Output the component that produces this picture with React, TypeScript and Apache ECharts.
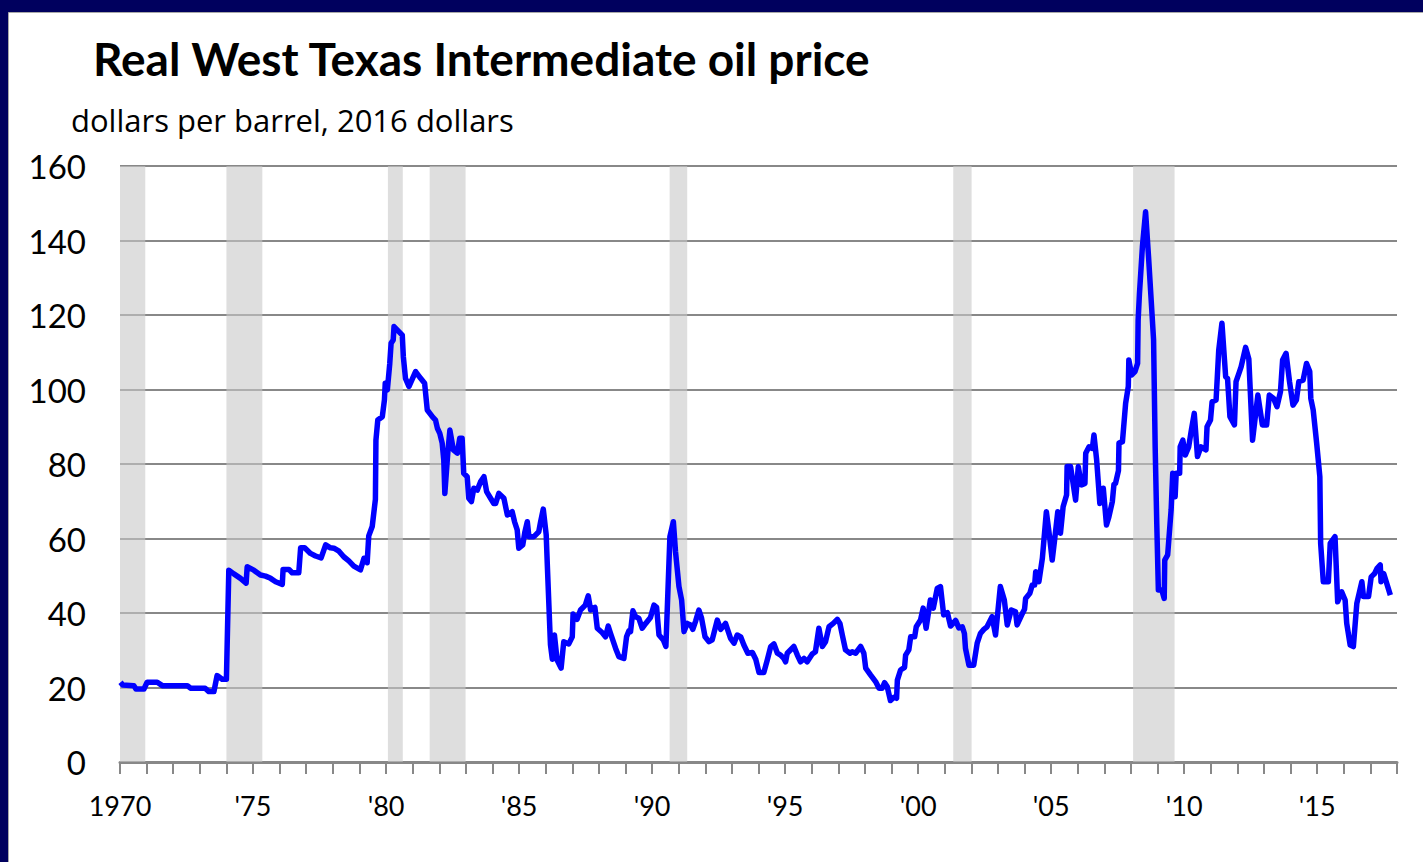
import React, { useEffect, useRef } from "react";
import * as echarts from "echarts";

const titleText = "Real West Texas Intermediate oil price";
const subtitleText = "dollars per barrel, 2016 dollars";

const yTicks = [0, 20, 40, 60, 80, 100, 120, 140, 160];

// recession periods (decimal years)
const recessionStart = [1970.0, 1974.0, 1980.07, 1981.64, 1990.66, 2001.32, 2008.08];
const recessionEnd = [1970.95, 1975.35, 1980.63, 1982.99, 1991.32, 2002.01, 2009.64];

// dates (decimal years) and real WTI price
const dates = [
  1970.02, 1970.1, 1970.52, 1970.6, 1970.9, 1971.02, 1971.4, 1971.59, 1972.53, 1972.65,
  1973.2, 1973.34, 1973.53, 1973.65, 1973.84, 1974.0, 1974.09, 1974.28, 1974.53, 1974.74,
  1974.78, 1975.03, 1975.28, 1975.47, 1975.66, 1975.85, 1976.1, 1976.13, 1976.35, 1976.47,
  1976.72, 1976.79, 1976.94, 1977.16, 1977.35, 1977.56, 1977.73, 1977.91, 1978.04, 1978.23,
  1978.41, 1978.6, 1978.79, 1979.04, 1979.17, 1979.29, 1979.35, 1979.48, 1979.6, 1979.62,
  1979.69, 1979.86, 1979.94, 1979.97, 1980.05, 1980.14, 1980.19, 1980.27, 1980.3, 1980.61,
  1980.65, 1980.73, 1980.86, 1981.11, 1981.3, 1981.45, 1981.55, 1981.74, 1981.86, 1981.93,
  1982.02, 1982.11, 1982.17, 1982.21, 1982.32, 1982.4, 1982.53, 1982.68, 1982.77, 1982.86,
  1982.92, 1983.05, 1983.11, 1983.21, 1983.3, 1983.43, 1983.55, 1983.68, 1983.78, 1983.93,
  1984.05, 1984.12, 1984.24, 1984.43, 1984.56, 1984.74, 1984.83, 1984.93, 1984.99, 1985.14,
  1985.22, 1985.31, 1985.37, 1985.56, 1985.74, 1985.81, 1985.91, 1986.02, 1986.06, 1986.18,
  1986.25, 1986.33, 1986.43, 1986.58, 1986.68, 1986.87, 1987.0, 1987.03, 1987.18, 1987.31,
  1987.49, 1987.6, 1987.69, 1987.85, 1987.94, 1988.13, 1988.25, 1988.35, 1988.44, 1988.63,
  1988.75, 1988.94, 1989.04, 1989.13, 1989.19, 1989.28, 1989.38, 1989.5, 1989.63, 1989.76,
  1989.94, 1990.07, 1990.17, 1990.26, 1990.42, 1990.52, 1990.67, 1990.8, 1990.88, 1991.01,
  1991.11, 1991.2, 1991.32, 1991.45, 1991.53, 1991.64, 1991.76, 1991.86, 1991.99, 1992.14,
  1992.26, 1992.45, 1992.58, 1992.76, 1992.95, 1993.08, 1993.2, 1993.33, 1993.45, 1993.6,
  1993.77, 1993.9, 1994.02, 1994.2, 1994.33, 1994.46, 1994.58, 1994.71, 1994.83, 1994.95,
  1995.02, 1995.08, 1995.33, 1995.46, 1995.58, 1995.71, 1995.83, 1996.02, 1996.14, 1996.27,
  1996.4, 1996.52, 1996.65, 1996.81, 1996.96, 1997.06, 1997.15, 1997.27, 1997.44, 1997.52,
  1997.65, 1997.84, 1997.96, 1998.03, 1998.21, 1998.4, 1998.53, 1998.65, 1998.74, 1998.84,
  1998.96, 1999.09, 1999.19, 1999.22, 1999.34, 1999.49, 1999.53, 1999.65, 1999.72, 1999.87,
  1999.93, 2000.09, 2000.19, 2000.3, 2000.46, 2000.57, 2000.72, 2000.84, 2000.96, 2001.1,
  2001.22, 2001.41, 2001.53, 2001.66, 2001.74, 2001.78, 2001.91, 2002.09, 2002.22, 2002.34,
  2002.47, 2002.59, 2002.78, 2002.91, 2003.09, 2003.24, 2003.35, 2003.5, 2003.66, 2003.72,
  2003.92, 2004.0, 2004.04, 2004.2, 2004.29, 2004.38, 2004.42, 2004.54, 2004.67, 2004.82,
  2004.94, 2005.04, 2005.13, 2005.25, 2005.35, 2005.45, 2005.58, 2005.6, 2005.73, 2005.92,
  2006.02, 2006.14, 2006.27, 2006.3, 2006.42, 2006.55, 2006.61, 2006.71, 2006.83, 2006.96,
  2007.08, 2007.17, 2007.3, 2007.36, 2007.42, 2007.53, 2007.55, 2007.68, 2007.8, 2007.9,
  2007.92, 2008.03, 2008.15, 2008.25, 2008.27, 2008.32, 2008.43, 2008.55, 2008.66, 2008.76,
  2008.85, 2008.91, 2008.97, 2009.03, 2009.16, 2009.25, 2009.27, 2009.38, 2009.51, 2009.57,
  2009.66, 2009.7, 2009.83, 2009.85, 2009.95, 2010.04, 2010.17, 2010.27, 2010.38, 2010.5,
  2010.63, 2010.82, 2010.86, 2010.99, 2011.05, 2011.2, 2011.3, 2011.42, 2011.56, 2011.63,
  2011.72, 2011.89, 2011.95, 2012.08, 2012.14, 2012.31, 2012.43, 2012.57, 2012.77, 2012.94,
  2013.1, 2013.2, 2013.36, 2013.49, 2013.62, 2013.7, 2013.83, 2013.96, 2014.09, 2014.22,
  2014.31, 2014.47, 2014.6, 2014.72, 2014.76, 2014.85, 2014.98, 2015.1, 2015.13, 2015.23,
  2015.42, 2015.49, 2015.67, 2015.77, 2015.92, 2016.05, 2016.11, 2016.24, 2016.36, 2016.49,
  2016.68, 2016.74, 2016.93, 2017.03, 2017.16, 2017.25, 2017.37, 2017.4, 2017.5, 2017.75,
];

const prices = [
  21.4, 20.7, 20.5, 19.6, 19.6, 21.4, 21.4, 20.5, 20.5, 19.8,
  19.8, 18.9, 18.9, 23.2, 22.2, 22.2, 51.5, 50.5, 49.3, 48.0,
  52.4, 51.5, 50.2, 49.9, 49.3, 48.4, 47.7, 51.7, 51.7, 50.8,
  50.8, 57.5, 57.5, 56.0, 55.3, 54.8, 58.3, 57.5, 57.4, 56.6,
  55.1, 54.0, 52.6, 51.6, 54.7, 53.5, 60.7, 63.2, 70.5, 86.4,
  91.8, 92.7, 97.2, 101.7, 99.9, 107.0, 112.4, 113.3, 116.9, 114.6,
  108.8, 103.0, 100.8, 104.8, 103.0, 101.7, 94.5, 92.7, 91.8, 89.6,
  88.2, 85.6, 81.1, 72.1, 82.9, 89.1, 83.8, 82.9, 86.9, 86.9,
  77.5, 76.6, 70.8, 69.9, 73.5, 73.0, 75.2, 76.6, 72.6, 70.8,
  69.4, 69.4, 72.1, 70.8, 66.3, 67.2, 64.5, 62.3, 57.4, 58.3,
  61.8, 64.5, 60.5, 60.5, 61.8, 64.5, 67.9, 61.0, 53.3, 31.5,
  27.6, 34.1, 27.4, 25.2, 32.3, 31.7, 33.6, 39.7, 38.3, 40.8,
  42.1, 44.6, 40.8, 41.5, 35.9, 34.7, 33.6, 36.5, 34.5, 30.5,
  28.3, 27.8, 33.6, 35.2, 35.0, 40.6, 39.0, 38.6, 35.9, 37.2,
  38.8, 42.1, 41.5, 34.1, 32.8, 31.0, 60.5, 64.5, 56.5, 47.1,
  43.5, 35.0, 37.2, 36.8, 35.6, 37.9, 40.8, 38.6, 33.6, 32.3,
  32.8, 38.1, 35.6, 37.2, 33.2, 31.9, 34.1, 33.6, 31.4, 29.2,
  29.4, 27.5, 24.0, 24.0, 27.4, 31.0, 31.7, 29.2, 28.7, 27.8,
  26.9, 29.2, 31.0, 28.7, 26.9, 27.8, 26.9, 29.0, 29.6, 35.9,
  31.0, 32.3, 36.3, 37.2, 38.3, 37.2, 34.1, 30.1, 29.2, 29.6,
  29.2, 31.0, 29.2, 25.2, 23.4, 21.6, 19.8, 19.8, 21.3, 20.2,
  16.5, 17.4, 17.1, 22.0, 24.7, 25.4, 28.7, 30.1, 33.6, 33.6,
  36.3, 38.1, 41.3, 35.9, 43.5, 41.3, 46.6, 47.1, 39.5, 40.1,
  36.5, 38.0, 36.0, 36.3, 34.5, 30.5, 26.0, 26.0, 31.9, 34.5,
  35.6, 36.3, 39.0, 34.1, 47.1, 43.5, 36.8, 40.8, 40.3, 36.8,
  39.9, 41.0, 43.9, 45.3, 47.5, 47.5, 51.1, 48.4, 54.7, 67.2,
  60.5, 54.2, 59.6, 67.2, 61.4, 68.5, 71.7, 79.3, 79.3, 70.3,
  79.3, 74.4, 74.8, 82.9, 84.6, 84.2, 87.8, 81.1, 69.4, 73.5,
  63.6, 65.8, 69.9, 74.5, 74.8, 78.2, 85.6, 86.0, 96.3, 100.8,
  107.9, 103.9, 104.8, 107.0, 118.7, 125.8, 138.3, 147.7, 135.7, 124.0,
  113.3, 84.6, 64.1, 46.2, 46.2, 43.9, 54.2, 55.6, 67.7, 77.5,
  71.2, 77.5, 77.5, 84.6, 86.4, 82.4, 84.6, 89.1, 93.6, 82.0,
  84.6, 83.8, 90.0, 91.8, 96.7, 97.2, 110.6, 117.8, 103.4, 103.0,
  92.7, 90.5, 102.1, 104.8, 106.1, 111.3, 108.2, 86.4, 98.5, 90.5,
  90.5, 98.5, 97.6, 95.4, 99.4, 107.9, 109.7, 102.1, 95.8, 97.2,
  102.1, 102.5, 107.0, 104.8, 97.6, 94.5, 85.6, 76.6, 58.7, 48.4,
  48.4, 58.7, 60.5, 43.0, 45.7, 43.5, 37.2, 31.4, 31.0, 42.6,
  48.4, 44.4, 44.4, 49.7, 50.6, 52.0, 52.9, 48.4, 50.6, 44.8,
];

const FONT = "Lato, 'Open Sans', sans-serif";

export default function App() {
  const ref = useRef<HTMLDivElement>(null);

  useEffect(() => {
    if (!ref.current) return;
    const chart = echarts.init(ref.current, null, { renderer: "svg" });
    const lineData = dates.map((d, i) => [d, prices[i]]);
    const areas = recessionStart.map((s, i) => [{ xAxis: s }, { xAxis: recessionEnd[i] }]);

    chart.setOption({
      animation: false,
      backgroundColor: "#00005e",
      graphic: [
        {
          type: "rect",
          z: -10,
          zlevel: 0,
          shape: { x: 8.5, y: 12.5, width: 1420, height: 860 },
          style: { fill: "#ffffff", stroke: "#a8a8a8", lineWidth: 1 },
        },
      ],
      title: [
        {
          text: titleText,
          left: 88,
          top: 30,
          textStyle: { fontFamily: FONT, fontWeight: "bold", fontSize: 46, color: "#000" },
        },
        {
          text: subtitleText,
          left: 66,
          top: 99,
          textStyle: { fontFamily: "'Open Sans', sans-serif", fontWeight: "normal", fontSize: 31, color: "#000" },
        },
      ],
      grid: { left: 120, right: 26, top: 166, bottom: 100, containLabel: false },
      xAxis: {
        type: "value",
        min: 1970,
        max: 2018,
        interval: 1,
        axisLine: { show: true, lineStyle: { color: "#888888", width: 3 } },
        axisTick: { show: true, length: 12, lineStyle: { color: "#888888", width: 2 } },
        splitLine: { show: false },
        axisLabel: {
          margin: 30,
          fontFamily: FONT,
          fontSize: 27,
          color: "#000",
          formatter: (v: number) => {
            if (v % 5 !== 0 || v > 2015) return "";
            return v === 1970 ? "1970" : "'" + String(v).slice(2);
          },
        },
      },
      yAxis: {
        type: "value",
        min: 0,
        max: 160,
        interval: 20,
        axisLine: { show: false },
        axisTick: { show: false },
        splitLine: { show: true, lineStyle: { color: "#888888", width: 2 } },
        axisLabel: {
          margin: 34,
          fontFamily: FONT,
          fontSize: 33,
          color: "#000",
          formatter: (v: number) => (yTicks.includes(v) ? String(v) : ""),
        },
      },
      series: [
        {
          type: "line",
          data: lineData,
          showSymbol: false,
          symbol: "none",
          lineStyle: { color: "#0000ff", width: 5.5, join: "round" },
          z: 5,
          markArea: {
            silent: true,
            itemStyle: { color: "rgba(200,200,200,0.6)" },
            data: areas,
          },
        },
      ],
    });

    return () => chart.dispose();
  }, []);

  return (
    <div style={{ position: "fixed", left: 0, top: 0, width: 1423, height: 862, background: "#00005e" }}>
      <div ref={ref} style={{ width: 1423, height: 862 }} />
    </div>
  );
}
